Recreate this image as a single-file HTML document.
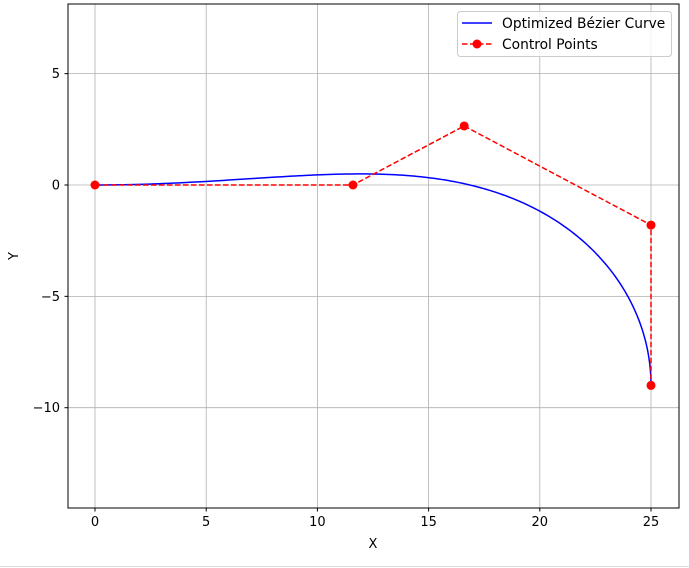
<!DOCTYPE html>
<html><head><meta charset="utf-8"><style>
body{margin:0;background:#fff;}
svg{display:block;font-family:"DejaVu Sans","Liberation Sans",sans-serif;}
</style></head><body>
<svg id="chart" width="689" height="568">
<rect x="0" y="0" width="689" height="568" fill="#fff"/>
<g id="grid"></g>
<g id="ticks"></g>
<g id="series"></g>
<rect x="68" y="4" width="611" height="504" fill="none" stroke="#000" stroke-width="1"/>
<text x="373" y="548" font-size="13" text-anchor="middle">X</text>
<text x="18" y="256" font-size="13" text-anchor="middle" transform="rotate(-90 18 256)">Y</text>
<g>
<rect x="457.5" y="11.5" width="214" height="45" rx="3" fill="#fff" fill-opacity="0.8" stroke="#ccc"/>
<line x1="462" y1="23" x2="492" y2="23" stroke="blue" stroke-width="1.5"/>
<text x="502" y="28" font-size="13.8">Optimized Bézier Curve</text>
<line x1="462" y1="44" x2="492" y2="44" stroke="red" stroke-width="1.5" stroke-dasharray="5.5,2.5"/>
<circle cx="477" cy="44" r="4.5" fill="red"/>
<text x="502" y="49" font-size="13.8">Control Points</text>
</g>
<line x1="0" y1="566.5" x2="689" y2="566.5" stroke="#ddd"/>
</svg>
<script>
const xTicks=[0,5,10,15,20,25];
const yTicks=[5,0,-5,-10];
const yTickLabels=["5","0","\u22125","\u221210"];
const ctrlX=[0,11.6,16.6,25,25];
const ctrlY=[0,0,2.65,-1.8,-9];
const NS="http://www.w3.org/2000/svg";
const sx=v=>95+v*22.24;
const sy=v=>185-v*22.27;
function mk(t,a,p){const e=document.createElementNS(NS,t);for(const k in a)e.setAttribute(k,a[k]);p.appendChild(e);return e;}
const grid=document.getElementById('grid'),ticks=document.getElementById('ticks'),series=document.getElementById('series');
xTicks.forEach(v=>{const x=sx(v);
const g=mk('line',{x1:x,y1:4,x2:x,y2:508,stroke:'#b0b0b0','stroke-width':0.8},grid);


const t=mk('line',{x1:x,y1:508,x2:x,y2:511.5,stroke:'#000'},ticks);


const l=mk('text',{x:x,y:526,'font-size':13,'text-anchor':'middle'},ticks);l.textContent=String(v);


});
yTicks.forEach((v,i)=>{const y=sy(v);
const g=mk('line',{x1:68,y1:y,x2:679,y2:y,stroke:'#b0b0b0','stroke-width':0.8},grid);


const t=mk('line',{x1:64.5,y1:y,x2:68,y2:y,stroke:'#000'},ticks);


const l=mk('text',{x:60,y:y+4.5,'font-size':13,'text-anchor':'end'},ticks);l.textContent=yTickLabels[i];


});
const n=ctrlX.length-1;
function binom(a,b){let r=1;for(let i=1;i<=b;i++)r=r*(a-b+i)/i;return r;}
let d='';
for(let s=0;s<=200;s++){const t=s/200;let bx=0,by=0;
for(let k=0;k<=n;k++){const w=binom(n,k)*Math.pow(1-t,n-k)*Math.pow(t,k);bx+=w*ctrlX[k];by+=w*ctrlY[k];}
d+=(s?'L':'M')+sx(bx).toFixed(2)+' '+sy(by).toFixed(2);}
const curve=mk('path',{d:d,fill:'none',stroke:'blue','stroke-width':1.5},series);


const poly=mk('polyline',{points:ctrlX.map((x,i)=>sx(x)+','+sy(ctrlY[i])).join(' '),fill:'none',stroke:'red','stroke-width':1.5,'stroke-dasharray':'5.5,2.5'},series);


ctrlX.forEach((x,i)=>{const c=mk('circle',{cx:sx(x),cy:sy(ctrlY[i]),r:4.5,fill:'red'},series);


});
</script>
</body></html>
